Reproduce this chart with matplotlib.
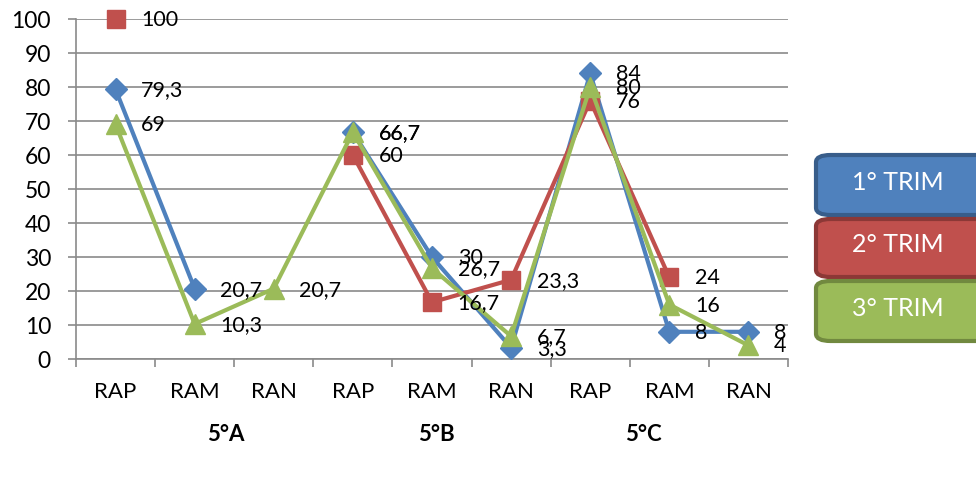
import matplotlib.pyplot as plt
import numpy as np
from matplotlib.patches import FancyBboxPatch
from matplotlib.transforms import blended_transform_factory

plt.rcParams['font.family'] = ['Lato', 'DejaVu Sans']

categories = ['RAP', 'RAM', 'RAN', 'RAP', 'RAM', 'RAN', 'RAP', 'RAM', 'RAN']
groups = ['5°A', '5°B', '5°C']
series_names = ['1° TRIM', '2° TRIM', '3° TRIM']
trim1 = [79.3, 20.7, np.nan, 66.7, 30, 3.3, 84, 8, 8]
trim2 = [100, np.nan, np.nan, 60, 16.7, 23.3, 76, 24, np.nan]
trim3 = [69, 10.3, 20.7, 66.7, 26.7, 6.7, 80, 16, 4]

colors = ['#4F81BD', '#C0504D', '#9BBB59']
edges = ['#385D8A', '#8C3836', '#71893F']
markers = ['D', 's', '^']
msizes = [11, 12.5, 14]

fig = plt.figure(figsize=(9.76, 4.81), dpi=100)
ax = fig.add_axes([76 / 976, 121 / 481, 712 / 976, 340 / 481])

x = np.arange(len(categories))
for vals, c, m, ms in zip([trim1, trim2, trim3], colors, markers, msizes):
    ax.plot(x, vals, color=c, lw=3, marker=m, markersize=ms, zorder=3,
            clip_on=False)
    for xi, v in zip(x, vals):
        if np.isnan(v):
            continue
        lab = ('%g' % v).replace('.', ',')
        ax.annotate(lab, (xi, v), xytext=(18.5, 0), textcoords='offset points',
                    ha='left', va='center', fontsize=15.5, color='black', zorder=4)

ax.set_xlim(-0.5, len(categories) - 0.5)
ax.set_ylim(0, 100)
ax.set_yticks(range(0, 101, 10))
ax.yaxis.grid(True, color='#8a8a8a', lw=1.2)
ax.set_axisbelow(True)
for s in ['top', 'right']:
    ax.spines[s].set_visible(False)
for s in ['left', 'bottom']:
    ax.spines[s].set_color('#8a8a8a')
    ax.spines[s].set_linewidth(1.2)

ax.set_xticks(np.arange(-0.5, len(categories), 1))
ax.set_xticklabels([])
ax.tick_params(axis='both', colors='#8a8a8a', length=6, width=1.2)
ax.tick_params(axis='y', labelcolor='black', labelsize=16.5, pad=12)

tr = blended_transform_factory(ax.transData, ax.transAxes)
for xi, c in zip(x, categories):
    ax.text(xi, -0.095, c, transform=tr, ha='center', va='center', fontsize=16)
for gx, g in zip([1.4, 4.06, 6.67], groups):
    ax.text(gx, -0.22, g, transform=tr, ha='center', va='center', fontsize=16,
            fontweight='bold')

# legend boxes
box_y = [(152, 216), (216, 278), (278, 342)]
for (y0, y1), name, c, e in zip(box_y, series_names, colors, edges):
    b = FancyBboxPatch((816 / 976, 1 - y1 / 481), 200 / 976, (y1 - y0 - 4) / 481,
                       boxstyle='round,pad=0,rounding_size=0.015',
                       transform=fig.transFigure, facecolor=c, edgecolor=e,
                       lw=3, clip_on=False)
    fig.patches.append(b)
    fig.text(898 / 976, 1 - (y0 + y1 - 4) / 2 / 481, name, color='white',
             ha='center', va='center', fontsize=18)

plt.savefig('out.png', dpi=100)
